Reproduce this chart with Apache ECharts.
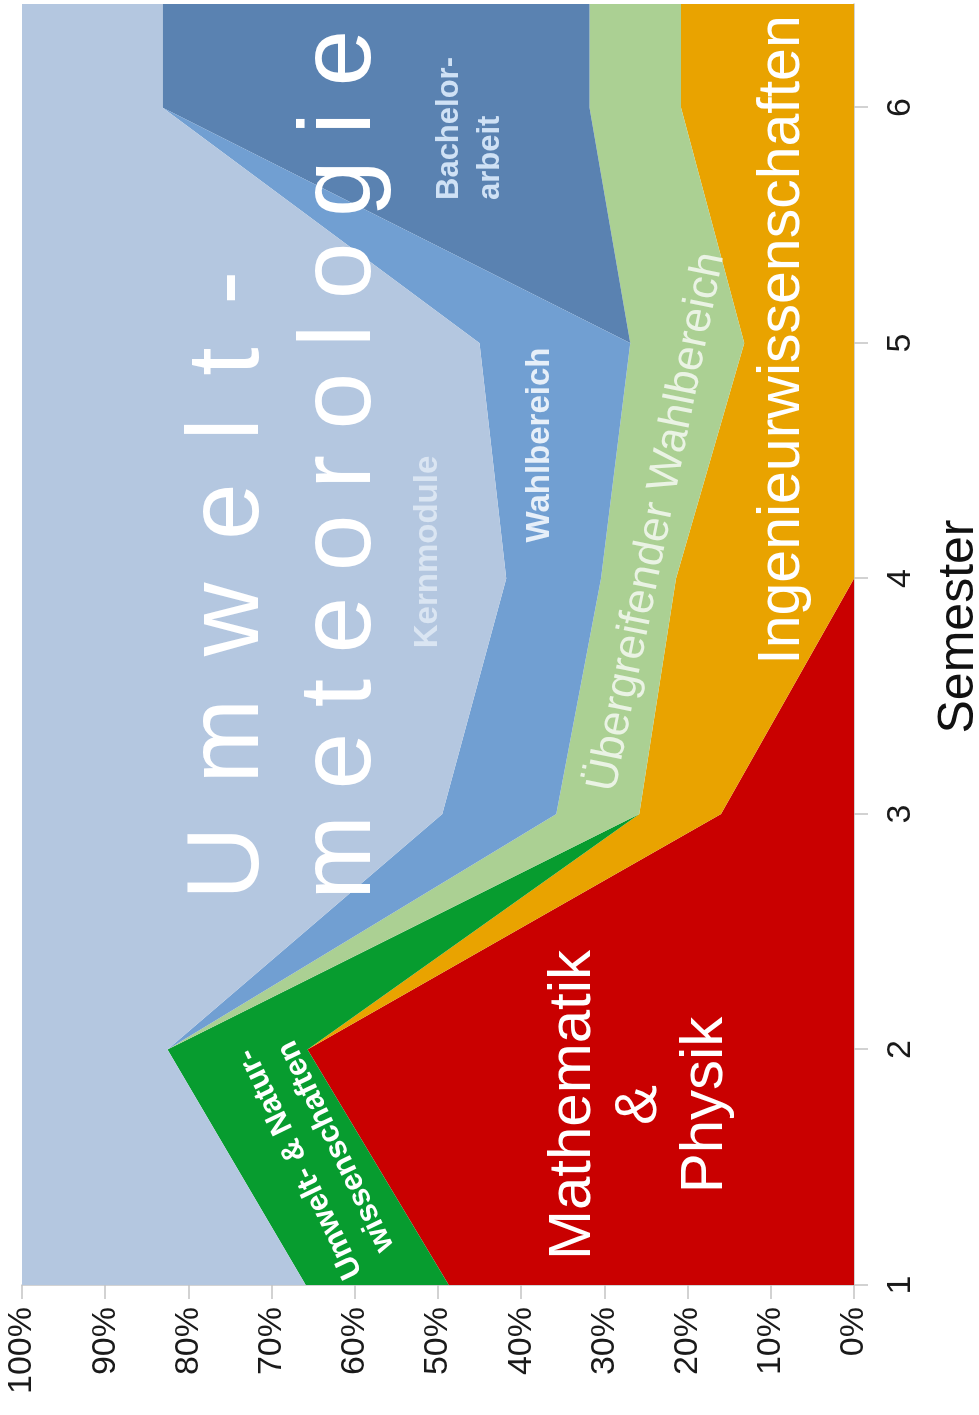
<!DOCTYPE html>
<html>
<head>
<meta charset="utf-8">
<script src="https://cdn.jsdelivr.net/npm/echarts@6/dist/echarts.min.js"></script>
<style>
html,body{margin:0;padding:0;background:#fff;overflow:hidden;width:979px;height:1415px;}
#chart{position:absolute;left:0;top:0;width:1415px;height:979px;transform-origin:0 0;transform:translate(0,1415px) rotate(-90deg);}
</style>
</head>
<body>
<div id="chart"></div>
<script>
// Semester positions and axis extent
const semesters = [1, 2, 3, 4, 5, 6];
const axisMax = 6.44;
const percentTicks = [0, 10, 20, 30, 40, 50, 60, 70, 80, 90, 100];

// Share of each module group per semester (%), stacked from 0 upward
const mathePhysik    = [48.7, 65.7, 16.0, 0, 0, 0];
const ingenieur      = [0, 0, 9.8, 21.4, 13.2, 20.8];
const umweltNatur    = [17.2, 16.8, 0, 0, 0, 0];
const uebergreifend  = [0, 0, 10.0, 9.0, 13.7, 11.0];
const bachelorarbeit = [0, 0, 0, 0, 0, 51.3];
const wahlbereich    = [0, 0, 13.7, 11.4, 18.1, 0];
const kernmodule     = [34.1, 17.5, 50.5, 58.2, 55.0, 16.9];

const seriesDefs = [
  ['Mathematik & Physik', mathePhysik, '#c90000'],
  ['Ingenieurwissenschaften', ingenieur, '#e9a300'],
  ['Umwelt- & Naturwissenschaften', umweltNatur, '#079c2f'],
  ['Übergreifender Wahlbereich', uebergreifend, '#abd093'],
  ['Bachelorarbeit', bachelorarbeit, '#5a82b1'],
  ['Wahlbereich', wahlbereich, '#719fd2'],
  ['Kernmodule', kernmodule, '#b4c7e0']
];

const xs = semesters.concat([axisMax]);
// rows are [value, semester] so that the value column is the stacked one
function toData(vals) {
  const ext = vals.concat([vals[vals.length - 1]]);
  return ext.map((v, i) => [v, xs[i]]);
}

const FONT = 'Liberation Sans, Arial, sans-serif';

const chart = echarts.init(document.getElementById('chart'), null, {renderer: 'canvas'});

function label(x, y, text, font, fill, extra) {
  return Object.assign({type: 'text', x: x, y: y, z: 100, zlevel: 0,
    style: Object.assign({text: text, font: font, fill: fill, align: 'center', verticalAlign: 'middle'}, extra && extra.style)},
    extra && extra.el);
}

chart.setOption({
  animation: false,
  backgroundColor: '#ffffff',
  grid: {left: 130, right: 4, top: 22, bottom: 125, containLabel: false, outerBoundsMode: 'none'},
  xAxis: {
    type: 'value',
    min: 1,
    max: axisMax,
    interval: 1,
    name: 'Semester',
    nameLocation: 'middle',
    nameGap: 80,
    nameTextStyle: {fontFamily: FONT, fontSize: 50, color: '#111', padding: [0, 0, 0, 36]},
    axisLine: {show: true, lineStyle: {color: '#c4c4c4', width: 1.5}},
    axisTick: {show: true, length: 14, lineStyle: {color: '#c4c4c4', width: 1.5}, customValues: semesters},
    axisLabel: {fontFamily: FONT, fontSize: 34, color: '#1a1a1a', margin: 30, customValues: semesters},
    splitLine: {show: false}
  },
  yAxis: {
    type: 'value',
    min: 0,
    max: 100,
    interval: 10,
    axisLine: {show: true, lineStyle: {color: '#c4c4c4', width: 1.5}},
    axisTick: {show: true, length: 14, lineStyle: {color: '#c4c4c4', width: 1.5}, customValues: percentTicks},
    axisLabel: {fontFamily: FONT, fontSize: 34, color: '#1a1a1a', margin: 22, formatter: '{value}%', customValues: percentTicks},
    splitLine: {show: false}
  },
  series: seriesDefs.map(([name, vals, color]) => ({
    name: name,
    type: 'line',
    stack: 'total',
    data: toData(vals),
    encode: {x: 1, y: 0},
    showSymbol: false,
    symbol: 'none',
    z: 2,
    lineStyle: {width: 0, color: color},
    itemStyle: {color: color},
    areaStyle: {color: color, opacity: 1}
  })),
  graphic: {
    elements: [
      label(515, 230, 'U\u2004\u200Am\u2004\u200Aw\u2004\u200Ae\u2004\u200Al\u2004\u200At\u2004\u200A-', '102px ' + FONT, '#ffffff', {style: {align: 'left'}}),
      label(515, 342, 'm\u2005e\u2005t\u2005e\u2005o\u2005r\u2005o\u2005l\u2005o\u2005g\u2005i\u2005e', '102px ' + FONT, '#ffffff', {style: {align: 'left'}}),
      label(863, 428, 'Kernmodule', 'bold 33px ' + FONT, '#dae5f2'),
      label(970, 540, 'Wahlbereich', 'bold 33px ' + FONT, '#e6eff9'),
      label(1215, 470, 'Bachelor-\narbeit', 'bold 31px ' + FONT, '#cfe1f5', {style: {align: 'left', lineHeight: 41}}),
      label(893, 657, 'Übergreifender Wahlbereich', '44px ' + FONT, '#eaf3e4', {el: {rotation: -0.2}}),
      label(1075, 783, 'Ingenieurwissenschaften', '59px ' + FONT, '#ffffff'),
      label(310, 639, 'Mathematik\n&\nPhysik', '60px ' + FONT, '#ffffff', {style: {lineHeight: 66}}),
      label(260, 318, 'Umwelt- & Natur-\nwissenschaften', 'bold 31px ' + FONT, '#ffffff', {style: {lineHeight: 40}, el: {rotation: 0.45}})
    ]
  }
});
</script>
</body>
</html>
